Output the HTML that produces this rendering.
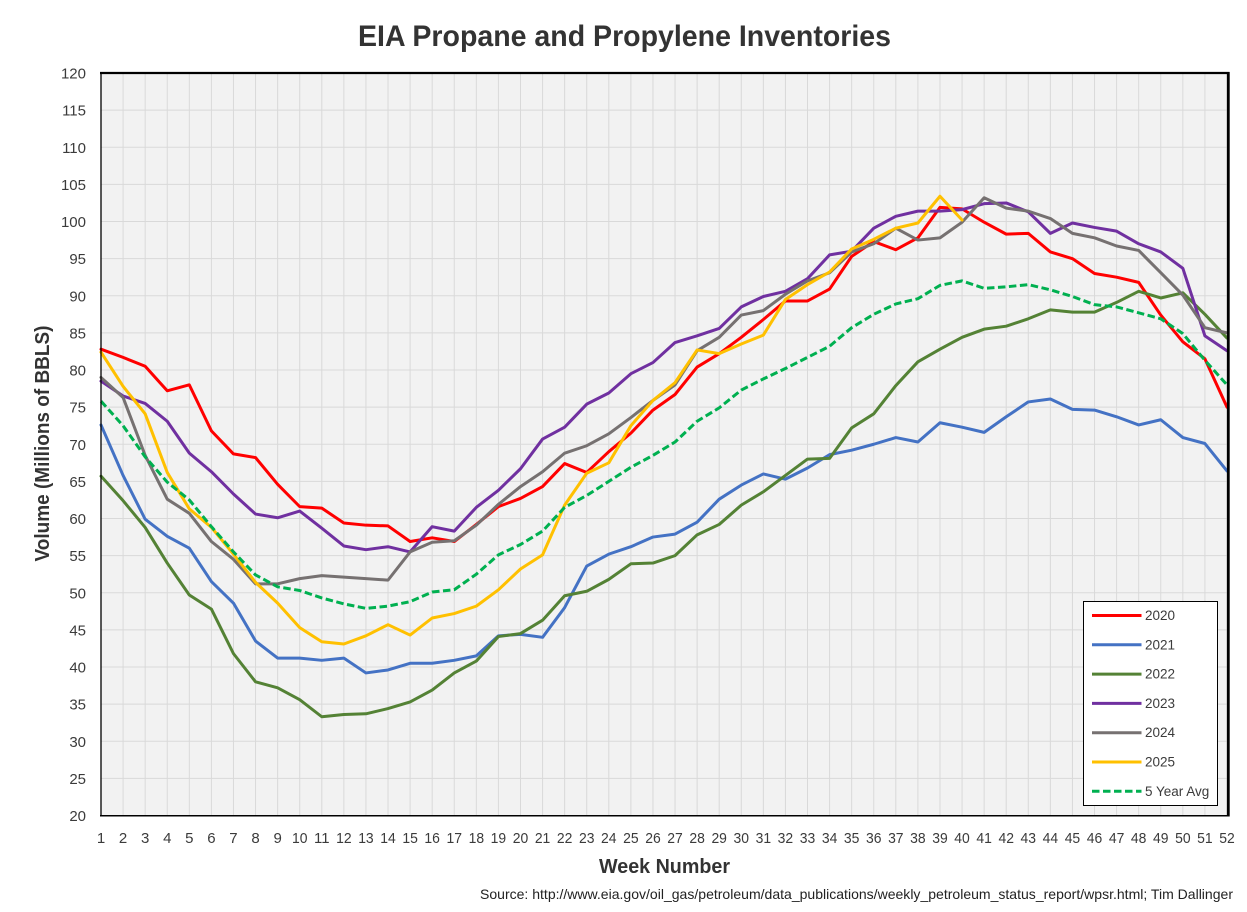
<!DOCTYPE html>
<html lang="en">
<head>
<meta charset="utf-8">
<title>EIA Propane and Propylene Inventories</title>
<style>
html,body{margin:0;padding:0;background:#fff;}
body{width:1247px;height:912px;overflow:hidden;}
svg{display:block;font-family:"Liberation Sans",sans-serif;}
text{fill:#3b3b3b;}
</style>
</head>
<body>
<svg id="chart" width="1247" height="912" viewBox="0 0 1247 912" xmlns="http://www.w3.org/2000/svg">
  <rect x="0" y="0" width="1247" height="912" fill="#ffffff"/>
  <text x="358" y="46" font-size="30" font-weight="700" textLength="533" lengthAdjust="spacingAndGlyphs" style="fill:#333">EIA Propane and Propylene Inventories</text>
  <rect x="101" y="73" width="1126" height="742.5" fill="#f2f2f2"/>
  <g id="grid"></g>
  <g id="yticks"></g>
  <g id="xticks"></g>
  <g id="series"></g>
  <g>
    <line x1="100" y1="73" x2="1229.5" y2="73" stroke="#000" stroke-width="2.2"/>
    <line x1="101" y1="72" x2="101" y2="816.5" stroke="#000" stroke-width="1.3"/>
    <line x1="1228.3" y1="72" x2="1228.3" y2="816.5" stroke="#000" stroke-width="2.8"/>
    <line x1="100" y1="815.8" x2="1229.5" y2="815.8" stroke="#000" stroke-width="1.5"/>
  </g>
  <g id="legend">
    <rect x="1083.5" y="601.5" width="134" height="204" fill="#ffffff" stroke="#000" stroke-width="1"/>
  </g>
  <text x="599" y="873" font-size="20" font-weight="700" textLength="131" lengthAdjust="spacingAndGlyphs" style="fill:#333">Week Number</text>
  <text transform="translate(49,561.5) rotate(-90)" x="0" y="0" font-size="20" font-weight="700" textLength="236" lengthAdjust="spacingAndGlyphs" style="fill:#333">Volume (Millions of BBLS)</text>
  <text x="480" y="899" font-size="14" textLength="753" lengthAdjust="spacingAndGlyphs" style="fill:#222">Source: http://www.eia.gov/oil_gas/petroleum/data_publications/weekly_petroleum_status_report/wpsr.html; Tim Dallinger</text>
</svg>
<script>
const weeks = [1,2,3,4,5,6,7,8,9,10,11,12,13,14,15,16,17,18,19,20,21,22,23,24,25,26,27,28,29,30,31,32,33,34,35,36,37,38,39,40,41,42,43,44,45,46,47,48,49,50,51,52];
const yTicks = [20,25,30,35,40,45,50,55,60,65,70,75,80,85,90,95,100,105,110,115,120];
const values2020 = [82.8,81.7,80.5,77.2,78,71.8,68.7,68.2,64.6,61.6,61.4,59.4,59.1,59,56.9,57.4,56.9,59.2,61.6,62.7,64.3,67.4,66.2,69,71.5,74.6,76.7,80.4,82.2,84.4,86.8,89.3,89.3,90.9,95.3,97.3,96.2,97.8,101.9,101.7,99.9,98.3,98.4,95.9,95,93,92.5,91.8,87.4,83.8,81.5,75];
const values2021 = [72.6,65.8,59.9,57.6,56,51.5,48.6,43.5,41.2,41.2,40.9,41.2,39.2,39.6,40.5,40.5,40.9,41.5,44.2,44.4,44,48,53.6,55.2,56.2,57.5,57.9,59.5,62.6,64.5,66,65.3,66.8,68.6,69.2,70,70.9,70.3,72.9,72.3,71.6,73.7,75.7,76.1,74.7,74.6,73.7,72.6,73.3,70.9,70.1,66.4];
const values2022 = [65.7,62.4,58.8,54,49.7,47.8,41.8,38,37.2,35.6,33.3,33.6,33.7,34.4,35.3,36.9,39.2,40.8,44.1,44.5,46.3,49.6,50.2,51.8,53.9,54,55,57.8,59.2,61.8,63.6,65.8,68,68.1,72.2,74.1,77.9,81.1,82.8,84.4,85.5,85.9,86.9,88.1,87.8,87.8,89.1,90.6,89.7,90.4,87.5,84.3];
const values2023 = [78.5,76.5,75.5,73.1,68.8,66.3,63.3,60.6,60.1,61,58.7,56.3,55.8,56.2,55.5,58.9,58.3,61.5,63.8,66.7,70.7,72.3,75.4,76.9,79.5,81,83.7,84.6,85.6,88.5,89.9,90.6,92.3,95.5,96,99.1,100.7,101.4,101.4,101.6,102.4,102.5,101.3,98.4,99.8,99.2,98.7,97,95.9,93.7,84.6,82.6];
const values2024 = [79,76.3,68.5,62.6,60.7,56.9,54.5,51.2,51.2,51.9,52.3,52.1,51.9,51.7,55.5,56.8,57,59.1,61.9,64.3,66.3,68.8,69.8,71.4,73.6,75.9,78,82.6,84.4,87.4,88,90.2,92,93.1,95.9,97,99.1,97.5,97.8,99.9,103.2,101.8,101.4,100.4,98.4,97.8,96.7,96.1,93.1,90.1,85.7,85];
const values2025 = [82.4,77.8,74.1,66.2,61.3,58.8,55.2,51.4,48.6,45.3,43.4,43.1,44.2,45.7,44.3,46.6,47.2,48.2,50.4,53.2,55.1,61.8,66.1,67.5,72.5,75.9,78.3,82.7,82.2,83.5,84.7,89.5,91.5,93.2,96.3,97.6,99.1,99.8,103.4,100.2];
const valuesAvg = [75.8,72.5,68.3,64.9,62.5,58.9,55.5,52.4,50.8,50.3,49.3,48.5,47.9,48.2,48.8,50.1,50.4,52.5,55.1,56.5,58.3,61.5,63.1,65,66.9,68.5,70.3,73.1,74.9,77.3,78.8,80.2,81.7,83.2,85.7,87.5,88.9,89.6,91.4,92,91,91.2,91.5,90.8,89.9,88.8,88.5,87.7,86.9,84.9,81.3,78];
const seriesNames = ['2020','2021','2022','2023','2024','2025','5 Year Avg'];
const seriesValues = [values2020,values2021,values2022,values2023,values2024,values2025,valuesAvg];

const seriesColors = ['#ff0000','#4472c4','#548235','#7030a0','#767171','#ffc000','#00b050'];
const NS = 'http://www.w3.org/2000/svg';
const xScale = function (w) { return 101 + (w - 1) * (1126 / 51); };
const yScale = function (v) { return 815.5 - (v - 20) * (742.5 / 100); };
function make(tag, parent, attrs, text) {
  const el = document.createElementNS(NS, tag);
  Object.keys(attrs).forEach(function (k) { el.setAttribute(k, attrs[k]); });
  if (text !== undefined) el.textContent = text;
  parent.appendChild(el);
  return el;
}
const grid = document.getElementById('grid');
const yGroup = document.getElementById('yticks');
const xGroup = document.getElementById('xticks');
const seriesGroup = document.getElementById('series');
const legend = document.getElementById('legend');

yTicks.forEach(function (t) {
  const y = yScale(t);
  const gl = make('line', grid, {x1: 101, x2: 1227, y1: y, y2: y, stroke: '#d9d9d9', 'stroke-width': 1});
  
  
  const lb = make('text', yGroup, {x: 86, y: y + 5.5, 'text-anchor': 'end', 'font-size': 15}, String(t));
  
  
});
weeks.forEach(function (w) {
  const x = xScale(w);
  const gl = make('line', grid, {x1: x, x2: x, y1: 73, y2: 815.5, stroke: '#d9d9d9', 'stroke-width': 1});
  
  
  const lb = make('text', xGroup, {x: x, y: 843, 'text-anchor': 'middle', 'font-size': 15}, String(w));
  if (w >= 10) lb.setAttribute('textLength', '15.5');
  if (w >= 10) lb.setAttribute('lengthAdjust', 'spacingAndGlyphs');
  
  
});
seriesValues.forEach(function (vals, i) {
  const pts = vals.map(function (v, j) { return xScale(weeks[j]).toFixed(2) + ',' + yScale(v).toFixed(2); }).join(' ');
  const pl = make('polyline', seriesGroup, {points: pts, fill: 'none', stroke: seriesColors[i], 'stroke-width': 3, 'stroke-linejoin': 'round', 'stroke-linecap': i === 6 ? 'butt' : 'round'});
  if (i === 6) pl.setAttribute('stroke-dasharray', '7.5 3.5');
  
  
  const ly = 615.5 + i * 29.3;
  const ll = make('line', legend, {x1: 1092, x2: 1141.5, y1: ly, y2: ly, stroke: seriesColors[i], 'stroke-width': 3});
  if (i === 6) ll.setAttribute('stroke-dasharray', '7.5 3.5');
  
  
  const lt = make('text', legend, {x: 1145, y: ly + 4.5, 'font-size': 13.5}, seriesNames[i]);
  
  
});
</script>
</body>
</html>
